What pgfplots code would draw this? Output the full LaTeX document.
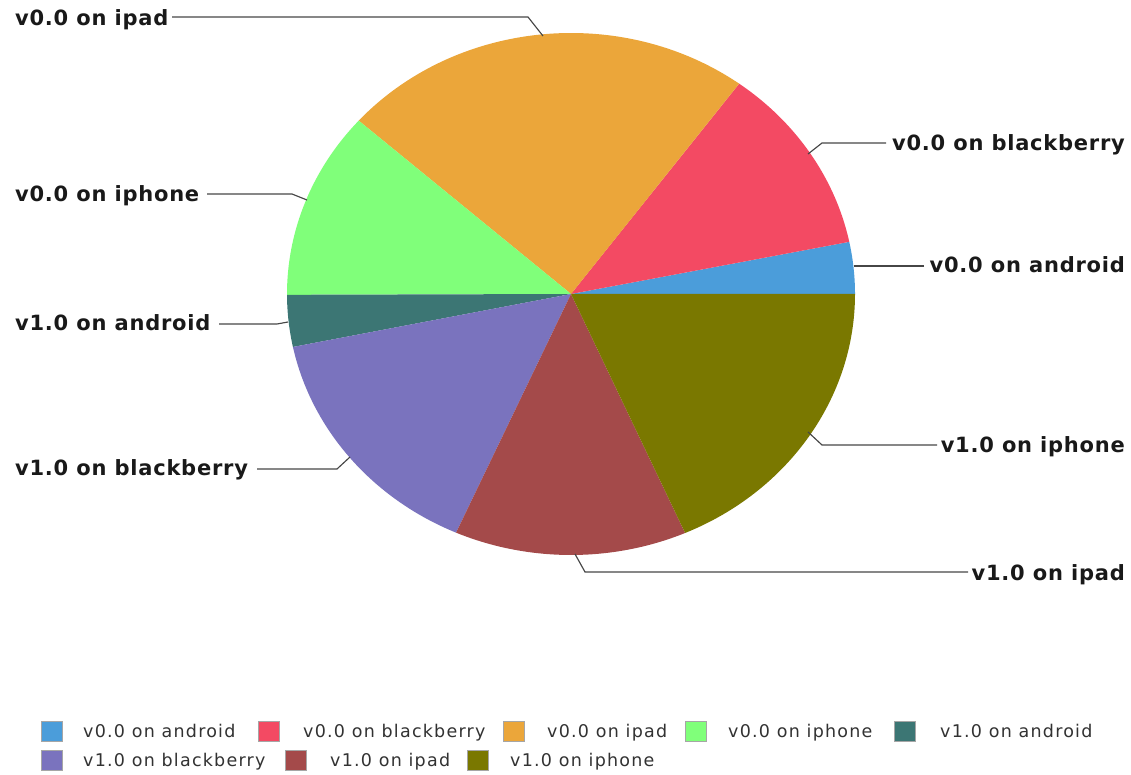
\documentclass[border=0pt]{standalone}
\usepackage{fontspec}
\setmainfont{DejaVu Sans}
\newfontfamily\labelfont{DejaVu Sans}[LetterSpace=3.6]
\newfontfamily\legfont{DejaVu Sans}[LetterSpace=7]
\usepackage{pgfplots}
\usepackage{pgfplotstable}
\pgfplotsset{compat=1.18}

\definecolor{c0}{RGB}{75,157,218}
\definecolor{c1}{RGB}{243,74,99}
\definecolor{c2}{RGB}{235,166,58}
\definecolor{c3}{RGB}{128,255,122}
\definecolor{c4}{RGB}{60,118,116}
\definecolor{c5}{RGB}{122,115,190}
\definecolor{c6}{RGB}{164,74,74}
\definecolor{c7}{RGB}{122,120,0}
\definecolor{leader}{RGB}{70,70,70}
\definecolor{txt}{RGB}{25,25,25}
\definecolor{legtxt}{RGB}{50,50,50}

% slice values (percent of total)
\pgfplotstableread[col sep=comma]{
label,value
v0.0 on android,3.2
v0.0 on blackberry,11.7
v0.0 on ipad,23.5
v0.0 on iphone,11.6
v1.0 on android,3.2
v1.0 on blackberry,15.1
v1.0 on ipad,13.2
v1.0 on iphone,18.4
}\piedata

% cumulative angles
\def\pietotal{0}
\pgfplotsforeachungrouped \i in {0,...,7}{%
  \pgfplotstablegetelem{\i}{value}\of\piedata
  \pgfmathsetmacro\pietotal{\pietotal+\pgfplotsretval}%
}
\def\cum{0}
\pgfplotsforeachungrouped \i in {0,...,7}{%
  \pgfplotstablegetelem{\i}{value}\of\piedata
  \pgfmathsetmacro\angstart{\cum/\pietotal*360}%
  \pgfmathsetmacro\cum{\cum+\pgfplotsretval}%
  \pgfmathsetmacro\angend{\cum/\pietotal*360}%
  \expandafter\xdef\csname pieS\i\endcsname{\angstart}%
  \expandafter\xdef\csname pieE\i\endcsname{\angend}%
}

\newcommand\lblstyle{\labelfont\bfseries\fontsize{21}{25}\selectfont}
\newcommand\legstyle{\legfont\fontsize{17.5}{21}\selectfont}

\begin{document}
\begin{tikzpicture}
\begin{axis}[
  x=1pt, y=1pt,
  xmin=0, xmax=1131, ymin=0, ymax=774,
  hide axis, clip=false,
]
\pgfplotsinvokeforeach{0,...,7}{%
  \edef\tmp{\noexpand\fill[c#1] (axis cs:571,480) -- ++(\csname pieS#1\endcsname:284pt and 261pt)
    arc[start angle=\csname pieS#1\endcsname, end angle=\csname pieE#1\endcsname, x radius=284pt, y radius=261pt] -- cycle;}%
  \tmp
}

% leader lines
\begin{scope}[draw=leader, line width=1.15pt]
\draw (axis cs:172,757) -- (axis cs:528,757) -- (axis cs:543,738);
\draw (axis cs:886,631) -- (axis cs:822,631) -- (axis cs:808,620);
\draw (axis cs:924,508) -- (axis cs:854,508);
\draw (axis cs:207,580) -- (axis cs:292,580) -- (axis cs:307,574);
\draw (axis cs:219,450) -- (axis cs:277,450) -- (axis cs:288,452);
\draw (axis cs:257,305) -- (axis cs:337,305) -- (axis cs:350,317);
\draw (axis cs:937,329) -- (axis cs:822,329) -- (axis cs:808,342);
\draw (axis cs:968,202) -- (axis cs:585,202) -- (axis cs:575,220);
\end{scope}

% slice labels
\begin{scope}[every node/.style={inner sep=0pt, text=txt, font=\lblstyle}]
\node[anchor=base west] at (axis cs:15,748.5) {v0.0 on ipad};
\node[anchor=base west] at (axis cs:15,572.5) {v0.0 on iphone};
\node[anchor=base west] at (axis cs:15,443.5) {v1.0 on android};
\node[anchor=base west] at (axis cs:15,298.5) {v1.0 on blackberry};
\node[anchor=base east] at (axis cs:1125,623.5) {v0.0 on blackberry};
\node[anchor=base east] at (axis cs:1125,501.5) {v0.0 on android};
\node[anchor=base east] at (axis cs:1125,321.5) {v1.0 on iphone};
\node[anchor=base east] at (axis cs:1125,193.5) {v1.0 on ipad};
\end{scope}

% legend
\begin{scope}[every node/.style={inner sep=0pt, text=legtxt, font=\legstyle, anchor=base west}]
\filldraw[c0, draw=black!35, line width=0.8pt] (axis cs:41,33) rectangle (axis cs:62,53);
\node at (axis cs:83,36.3) {v0.0 on android};
\filldraw[c1, draw=black!35, line width=0.8pt] (axis cs:258,33) rectangle (axis cs:279,53);
\node at (axis cs:303,36.3) {v0.0 on blackberry};
\filldraw[c2, draw=black!35, line width=0.8pt] (axis cs:503,33) rectangle (axis cs:524,53);
\node at (axis cs:547,36.3) {v0.0 on ipad};
\filldraw[c3, draw=black!35, line width=0.8pt] (axis cs:685,33) rectangle (axis cs:706,53);
\node at (axis cs:728,36.3) {v0.0 on iphone};
\filldraw[c4, draw=black!35, line width=0.8pt] (axis cs:894,33) rectangle (axis cs:915,53);
\node at (axis cs:940,36.3) {v1.0 on android};
\filldraw[c5, draw=black!35, line width=0.8pt] (axis cs:41,4) rectangle (axis cs:62,24);
\node at (axis cs:83,7.3) {v1.0 on blackberry};
\filldraw[c6, draw=black!35, line width=0.8pt] (axis cs:285,4) rectangle (axis cs:306,24);
\node at (axis cs:330,7.3) {v1.0 on ipad};
\filldraw[c7, draw=black!35, line width=0.8pt] (axis cs:467,4) rectangle (axis cs:488,24);
\node at (axis cs:510,7.3) {v1.0 on iphone};
\end{scope}
\end{axis}
\pgfresetboundingbox
\path (0,0) rectangle (1131pt,774pt);
\end{tikzpicture}
\end{document}
